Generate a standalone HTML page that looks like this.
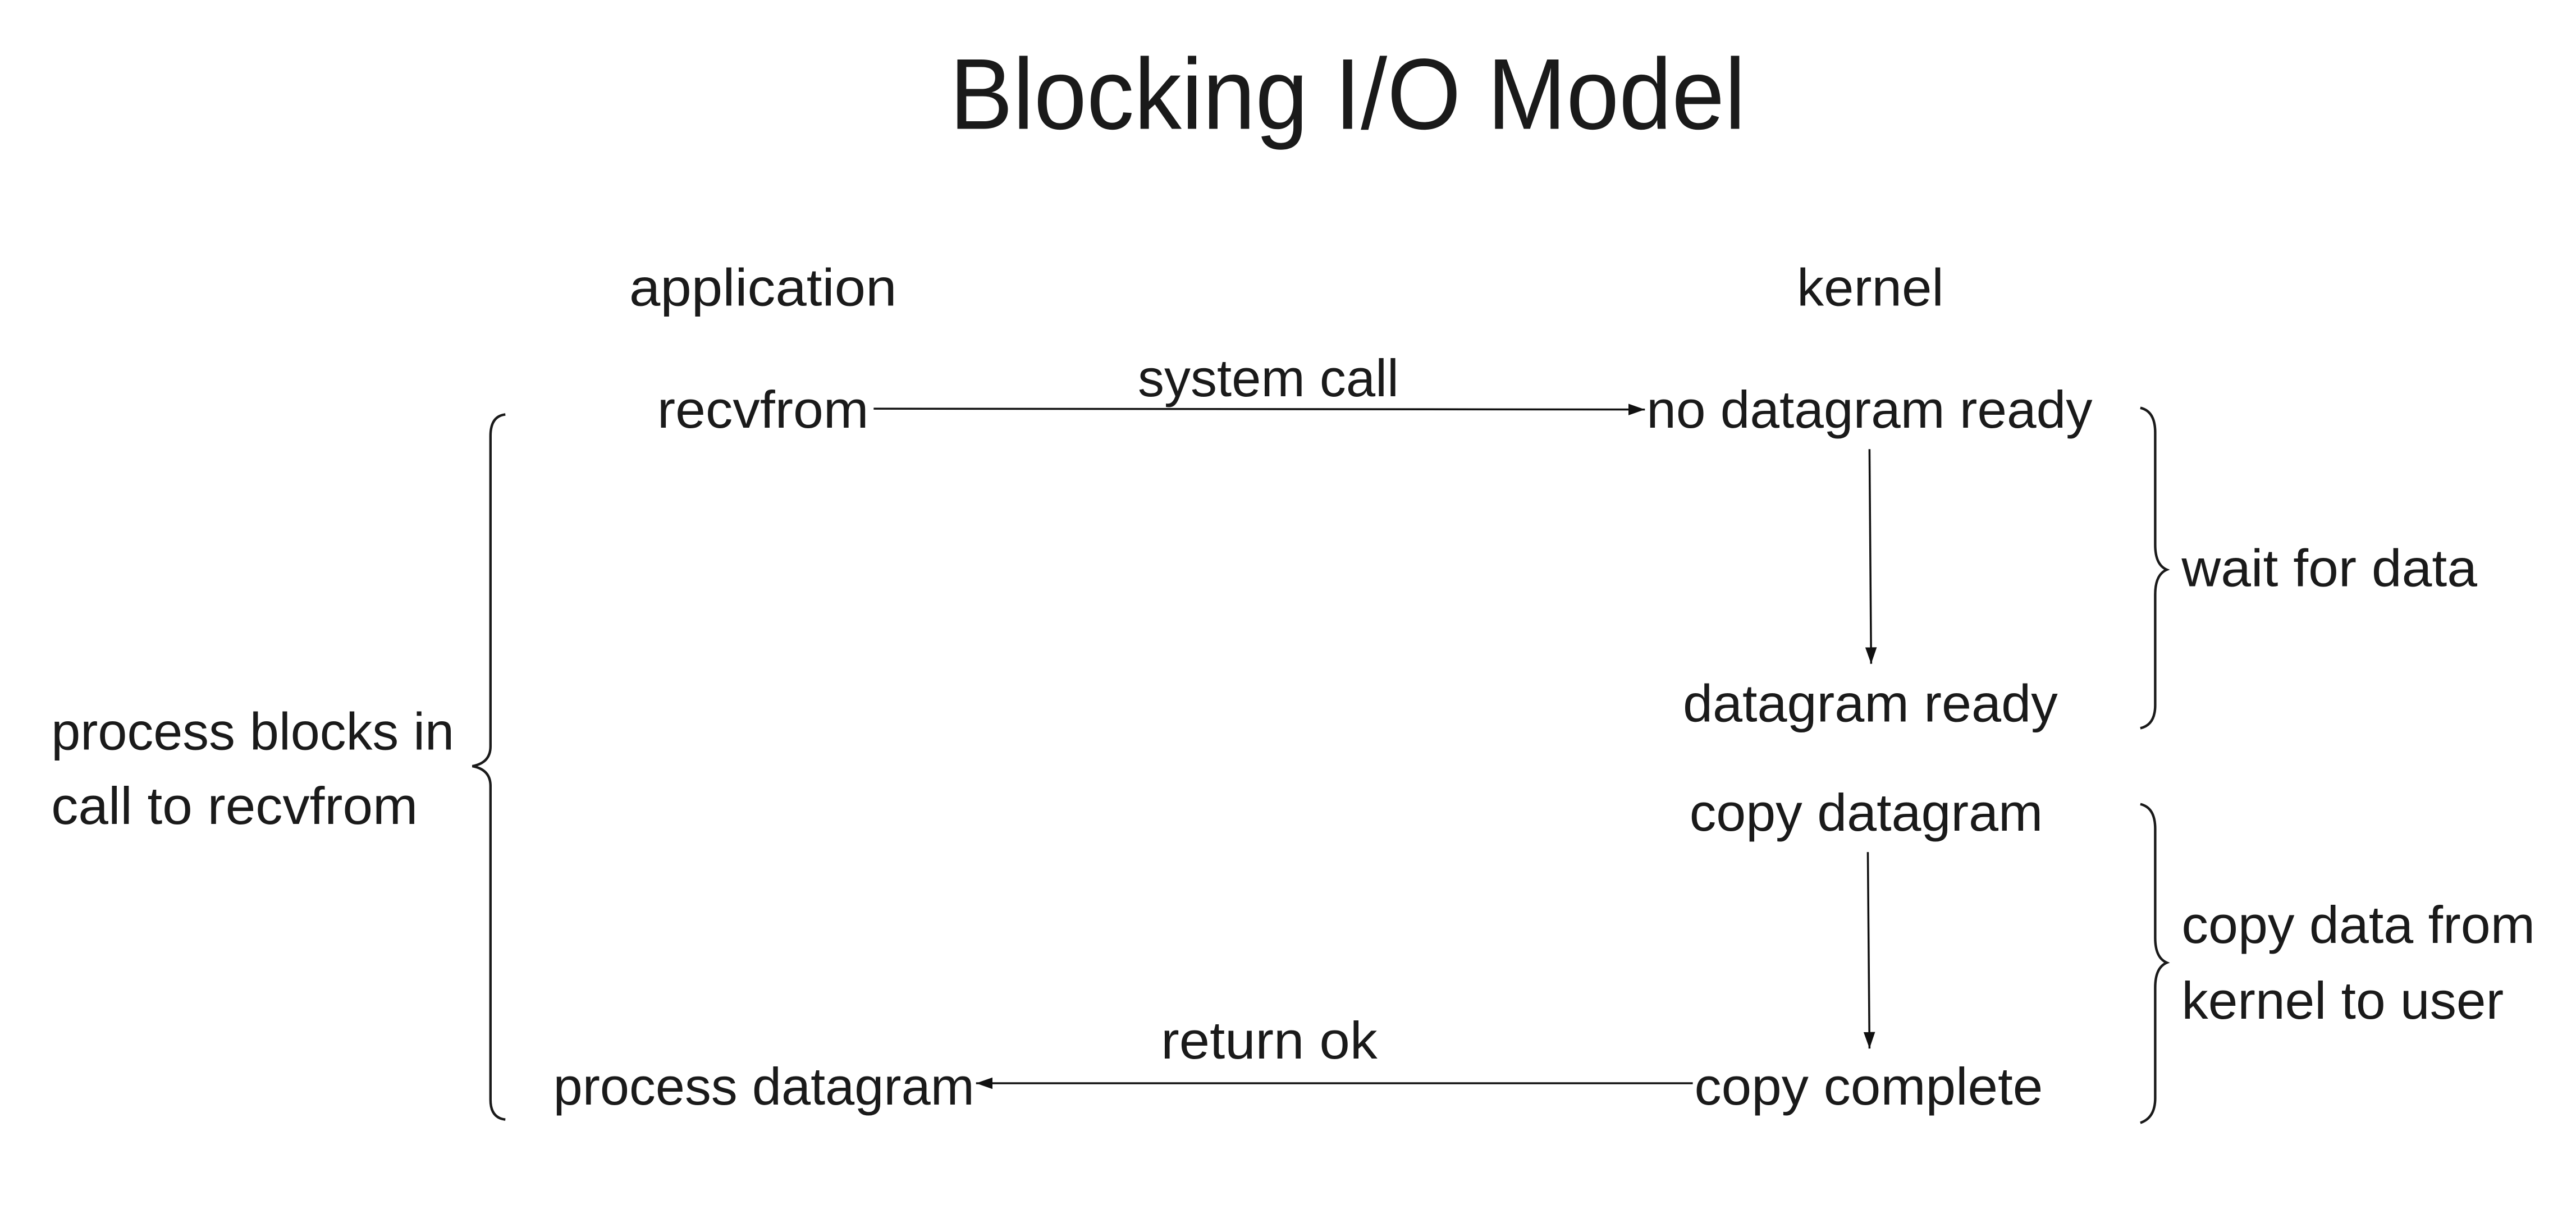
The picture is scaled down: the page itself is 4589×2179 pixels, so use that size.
<!DOCTYPE html>
<html><head><meta charset="utf-8"><style>
html,body{margin:0;padding:0;background:#fff;}
svg{display:block;}
text{font-family:"Liberation Sans",sans-serif;fill:#1a1a1a;}
</style></head><body>
<svg width="4589" height="2179" viewBox="0 0 1559.8 740.65" preserveAspectRatio="none" xmlns="http://www.w3.org/2000/svg">
<defs>
<marker id="ah" markerWidth="10" markerHeight="7" refX="10" refY="3.5" orient="auto" markerUnits="userSpaceOnUse">
<path d="M0,0 L10,3.5 L0,7 Z" fill="#111"/>
</marker>
</defs>
<text x="575" y="78" font-size="61" textLength="482" lengthAdjust="spacingAndGlyphs">Blocking I/O Model</text>
<g font-size="32">
<text x="381" y="185" textLength="162" lengthAdjust="spacingAndGlyphs">application</text>
<text x="1088" y="185" textLength="89" lengthAdjust="spacingAndGlyphs">kernel</text>
<text x="689" y="240" textLength="158" lengthAdjust="spacingAndGlyphs">system call</text>
<text x="398" y="259" textLength="128" lengthAdjust="spacingAndGlyphs">recvfrom</text>
<text x="997" y="259" textLength="270" lengthAdjust="spacingAndGlyphs">no datagram ready</text>
<text x="1321" y="355" textLength="179" lengthAdjust="spacingAndGlyphs">wait for data</text>
<text x="1019" y="437" textLength="227" lengthAdjust="spacingAndGlyphs">datagram ready</text>
<text x="31" y="454" textLength="244" lengthAdjust="spacingAndGlyphs">process blocks in</text>
<text x="31" y="499" textLength="222" lengthAdjust="spacingAndGlyphs">call to recvfrom</text>
<text x="1023" y="503" textLength="214" lengthAdjust="spacingAndGlyphs">copy datagram</text>
<text x="1321" y="571" textLength="214" lengthAdjust="spacingAndGlyphs">copy data from</text>
<text x="1321" y="617" textLength="195" lengthAdjust="spacingAndGlyphs">kernel to user</text>
<text x="703" y="641" textLength="131" lengthAdjust="spacingAndGlyphs">return ok</text>
<text x="335" y="669" textLength="255" lengthAdjust="spacingAndGlyphs">process datagram</text>
<text x="1026" y="669" textLength="211" lengthAdjust="spacingAndGlyphs">copy complete</text>
</g>
<g stroke="#111" stroke-width="1.2" fill="none">
<line x1="529" y1="247.5" x2="996" y2="248" marker-end="url(#ah)"/>
<line x1="1132" y1="272" x2="1133" y2="402" marker-end="url(#ah)"/>
<line x1="1131" y1="516" x2="1132" y2="635" marker-end="url(#ah)"/>
<line x1="1025" y1="656" x2="591" y2="656" marker-end="url(#ah)"/>
</g>
<g stroke="#1a1a1a" stroke-width="1.5" fill="none">
<path d="M1296,247 Q1305,249 1305,262 L1305,330 Q1305,342 1312,345 Q1305,348 1305,360 L1305,427 Q1305,439 1296,441"/>
<path d="M1296,487 Q1305,489 1305,502 L1305,568 Q1305,580 1312,583 Q1305,586 1305,598 L1305,665 Q1305,677 1296,680"/>
<path d="M306,251 Q297,252 297,264 L297,452 Q297,462 286,464 Q297,466 297,476 L297,666 Q297,677 306,678"/>
</g>
</svg>
</body></html>
